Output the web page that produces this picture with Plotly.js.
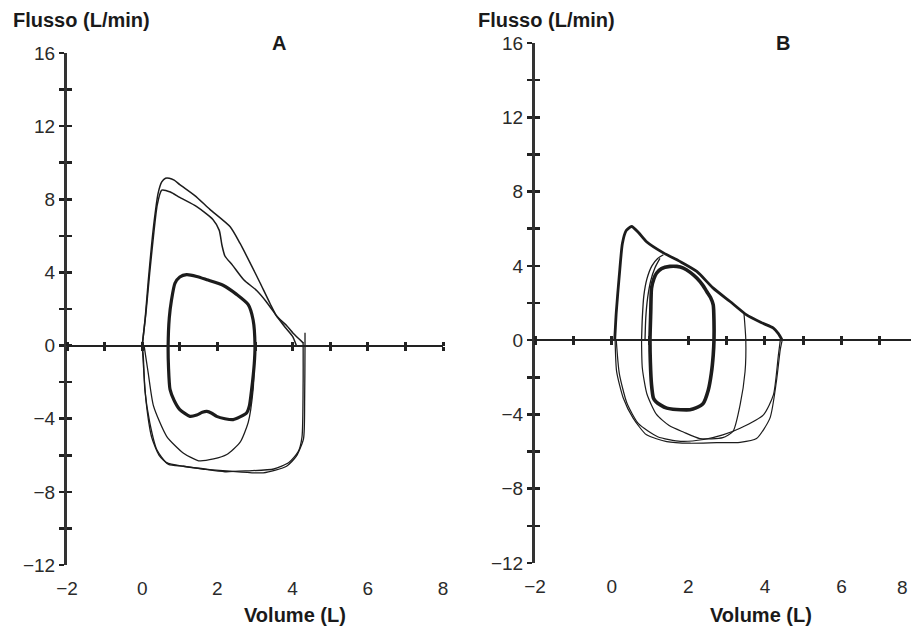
<!DOCTYPE html>
<html>
<head>
<meta charset="utf-8">
<script src="https://cdn.plot.ly/plotly-3.0.1.min.js"></script>
<style>html,body{margin:0;padding:0;background:#fff;}#chart{width:911px;height:627px;}</style>
</head>
<body>
<div id="chart"></div>
<script>
// ---------- Panel A data (Volume L, Flusso L/min) ----------
var aExp1V = [0.00, 0.08, 0.16, 0.25, 0.33, 0.42, 0.52, 0.62, 0.72, 0.85, 1.00, 1.40, 1.80, 2.34, 2.60, 2.90, 3.13, 3.40, 3.58, 3.84, 4.05, 4.28];
var aExp1F = [0.0, 1.5, 3.5, 5.5, 7.0, 8.3, 8.95, 9.15, 9.15, 9.05, 8.8, 8.2, 7.45, 6.5, 5.6, 4.4, 3.45, 2.3, 1.6, 1.1, 0.6, 0.15];
var aExp2V = [0.00, 0.10, 0.20, 0.30, 0.40, 0.52, 0.75, 1.00, 1.45, 1.88, 2.05, 2.12, 2.20, 2.40, 2.70, 3.05, 3.30, 3.58, 3.80, 4.00, 4.10];
var aExp2F = [0.0, 1.8, 4.0, 6.0, 7.7, 8.5, 8.4, 8.1, 7.6, 6.9, 6.3, 5.5, 4.9, 4.4, 3.6, 3.0, 2.4, 1.6, 1.0, 0.5, 0.0];
var aInsp1V = [4.33, 4.33, 4.32, 4.29, 4.10, 3.84, 3.22, 2.34, 1.80, 1.09, 0.65, 0.39, 0.20, 0.07, 0.03, 0.00];
var aInsp1F = [0.7, 0.0, -3.0, -5.1, -6.05, -6.6, -6.96, -6.87, -6.78, -6.6, -6.4, -5.7, -4.2, -2.4, -0.6, 0.0];
var aInsp2V = [4.28, 4.28, 4.25, 4.15, 3.90, 3.50, 2.80, 2.20, 1.60, 1.10, 0.70, 0.45, 0.25, 0.10, 0.03, 0.00];
var aInsp2F = [0.2, -2.0, -5.0, -5.8, -6.4, -6.75, -6.85, -6.9, -6.75, -6.6, -6.5, -6.0, -5.0, -3.0, -1.0, 0.0];
var aInsp3V = [3.00, 2.98, 2.95, 2.82, 2.60, 2.25, 1.90, 1.50, 1.09, 0.65, 0.30, 0.16, 0.05];
var aInsp3F = [0.0, -1.2, -2.4, -4.2, -5.3, -5.96, -6.2, -6.3, -5.87, -4.96, -3.3, -1.5, 0.0];
var aTidalV = [0.69, 0.72, 0.78, 0.87, 1.00, 1.18, 1.45, 1.72, 2.15, 2.51, 2.82, 2.95, 3.00, 2.98, 2.91, 2.85, 2.78, 2.60, 2.42, 2.20, 1.98, 1.85, 1.72, 1.60, 1.45, 1.27, 1.00, 0.85, 0.74, 0.70, 0.69];
var aTidalF = [0.0, 1.5, 2.5, 3.4, 3.75, 3.88, 3.78, 3.6, 3.3, 2.8, 2.24, 1.4, 0.0, -1.0, -2.4, -3.3, -3.67, -3.9, -4.05, -4.0, -3.87, -3.7, -3.6, -3.65, -3.8, -3.87, -3.5, -3.0, -2.4, -1.2, 0.0];

// ---------- Panel B data ----------
var bExpV = [0.08, 0.12, 0.20, 0.28, 0.38, 0.52, 0.70, 0.91, 1.35, 1.78, 2.22, 2.65, 3.09, 3.52, 3.90, 4.22, 4.35, 4.45];
var bExpF = [0.0, 1.5, 3.5, 5.2, 5.9, 6.12, 5.8, 5.3, 4.7, 4.24, 3.7, 2.8, 2.08, 1.36, 0.95, 0.65, 0.35, 0.0];
var bExp2V = [0.78, 0.80, 0.84, 0.92, 1.05, 1.20, 1.35];
var bExp2F = [0.0, 1.2, 2.4, 3.3, 4.0, 4.4, 4.6];
var bExp3V = [0.87, 0.89, 0.94, 1.02, 1.13, 1.26];
var bExp3F = [0.0, 1.2, 2.3, 3.2, 3.9, 4.4];
var bTidalV = [1.00, 1.02, 1.04, 1.10, 1.17, 1.30, 1.52, 1.70, 1.87, 2.05, 2.22, 2.38, 2.48, 2.58, 2.65, 2.67, 2.67, 2.65, 2.60, 2.52, 2.39, 2.20, 2.04, 1.80, 1.60, 1.44, 1.28, 1.15, 1.09, 1.04, 1.01, 1.00];
var bTidalF = [0.0, 1.5, 2.8, 3.3, 3.6, 3.85, 3.97, 3.97, 3.88, 3.65, 3.34, 2.95, 2.62, 2.3, 1.9, 1.0, 0.0, -0.8, -1.8, -2.7, -3.4, -3.65, -3.75, -3.75, -3.72, -3.66, -3.5, -3.3, -3.12, -2.4, -1.2, 0.0];
var bInsp1V = [4.45, 4.40, 4.30, 4.13, 3.78, 3.35, 2.74, 2.04, 1.44, 0.91, 0.56, 0.30, 0.13, 0.09];
var bInsp1F = [0.0, -0.5, -2.2, -4.2, -5.3, -5.5, -5.52, -5.55, -5.46, -5.1, -4.2, -3.1, -1.7, 0.0];
var bInsp2V = [4.40, 4.35, 4.22, 3.96, 3.35, 2.90, 2.40, 1.80, 1.20, 0.70, 0.40, 0.20, 0.12];
var bInsp2F = [0.0, -0.8, -2.95, -4.02, -4.74, -5.1, -5.35, -5.45, -5.2, -4.5, -3.4, -1.8, 0.0];
var bInsp3V = [3.45, 3.50, 3.48, 3.35, 3.17, 2.90, 2.30, 1.87, 1.50, 1.17, 0.92, 0.80, 0.78];
var bInsp3F = [1.5, 0.0, -1.7, -3.5, -4.9, -5.25, -5.3, -4.95, -4.6, -4.0, -2.9, -1.5, 0.0];

// ---------- tick labels ----------
var yTickVals = [-12, -10, -8, -6, -4, -2, 0, 2, 4, 6, 8, 10, 12, 14, 16];
var yTickText = ['\u221212', '', '\u22128', '', '\u22124', '', '0', '', '4', '', '8', '', '12', '', '16'];
var xTickVals = [-2, 0, 2, 4, 6, 8];
var xTickText = ['\u22122', '0', '2', '4', '6', '8'];
var yTitle = 'Flusso (L/min)';
var xTitle = 'Volume (L)';
var panelLabels = ['A', 'B'];

var INK = '#1c1c1c';
var FONT = 'Liberation Sans, Arial, Helvetica, sans-serif';
var W = 911, H = 627;

function line(v, f, xa, ya, w) {
  return {x: v, y: f, xaxis: xa, yaxis: ya, type: 'scatter', mode: 'lines',
          line: {color: INK, width: w, shape: 'spline', smoothing: 0.6},
          hoverinfo: 'skip', showlegend: false};
}

var data = [
  line(aExp1V, aExp1F, 'x', 'y', 1.5),
  line(aExp2V, aExp2F, 'x', 'y', 1.5),
  line(aTidalV, aTidalF, 'x', 'y', 3.2),
  line(aInsp1V, aInsp1F, 'x3', 'y', 1.3),
  line(aInsp2V, aInsp2F, 'x5', 'y', 1.3),
  line(aInsp3V, aInsp3F, 'x', 'y3', 1.3),
  line(bExpV, bExpF, 'x2', 'y2', 2.8),
  line(bExp2V, bExp2F, 'x2', 'y2', 1.3),
  line(bExp3V, bExp3F, 'x2', 'y2', 1.3),
  line(bTidalV, bTidalF, 'x2', 'y2', 3.6),
  line(bInsp1V, bInsp1F, 'x4', 'y2', 1.2),
  line(bInsp2V, bInsp2F, 'x6', 'y2', 1.2),
  line(bInsp3V, bInsp3F, 'x2', 'y4', 1.2)
];

// pixel geometry -> paper fractions
var A = {x0: 67, x1: 443, yTop: 53, yBot: 565, xr: [-2, 8]};
var B = {x0: 535, x1: 911, yTop: 43, yBot: 563, xr: [-2, 7.81]};
var yr = [-12, 16];
function dom(p) {
  var xd = [p.x0 / W, p.x1 / W];
  var yd = [1 - p.yBot / H, 1 - p.yTop / H];
  var pos = yd[0] + (0 - yr[0]) / (yr[1] - yr[0]) * (yd[1] - yd[0]);
  return {xd: xd, yd: yd, pos: pos};
}
var dA = dom(A), dB = dom(B);

var tickFont = {family: FONT, size: 19, color: '#2a2a2a'};

function labelX(d, p, yid) {
  return {domain: d.xd, range: p.xr, autorange: false, anchor: yid,
          showline: false, showgrid: false, zeroline: false,
          tickvals: xTickVals, ticktext: xTickText, ticks: 'outside',
          ticklen: 6, tickcolor: 'rgba(0,0,0,0)', tickfont: tickFont, fixedrange: true};
}
function zeroX(d, p, over, side) {
  return {overlaying: over, anchor: 'free', position: d.pos, side: side,
          range: p.xr, autorange: false, showline: side === 'bottom', linecolor: '#222', linewidth: 2,
          showgrid: false, zeroline: false, showticklabels: false,
          ticks: 'outside', tick0: 0, dtick: 1, ticklen: 4, tickwidth: 3, tickcolor: '#222', fixedrange: true};
}
function mainY(d, xid) {
  return {domain: d.yd, range: yr, autorange: false, anchor: xid,
          showline: true, linecolor: '#333', linewidth: 3, showgrid: false, zeroline: false,
          tickvals: yTickVals, ticktext: yTickText, ticks: 'outside', ticklen: 5, tickwidth: 2.5,
          tickcolor: '#222', tickfont: tickFont, fixedrange: true};
}
function insideY(over, xid) {
  return {overlaying: over, anchor: xid, side: 'left', range: yr, autorange: false,
          showline: false, showgrid: false, zeroline: false, showticklabels: false,
          tickvals: yTickVals, ticks: 'inside', ticklen: 5, tickwidth: 2.5, tickcolor: '#222', fixedrange: true};
}

var titleFont = {family: FONT, size: 20, color: '#1a1a1a'};
function ann(text, px, py, anchor, font) {
  return {text: text, xref: 'paper', yref: 'paper', x: px / W, y: 1 - py / H,
          xanchor: anchor, yanchor: 'middle', showarrow: false, font: font};
}

var layout = {
  width: W, height: H,
  margin: {l: 0, r: 0, t: 0, b: 0},
  paper_bgcolor: '#fff', plot_bgcolor: 'rgba(0,0,0,0)',
  showlegend: false,
  xaxis: labelX(dA, A, 'y'),
  yaxis: mainY(dA, 'x'),
  xaxis3: zeroX(dA, A, 'x', 'bottom'),
  xaxis5: zeroX(dA, A, 'x', 'top'),
  yaxis3: insideY('y', 'x'),
  xaxis2: labelX(dB, B, 'y2'),
  yaxis2: mainY(dB, 'x2'),
  xaxis4: zeroX(dB, B, 'x2', 'bottom'),
  xaxis6: zeroX(dB, B, 'x2', 'top'),
  yaxis4: insideY('y2', 'x2'),
  annotations: [
    ann('<b>' + yTitle + '</b>', 11, 20, 'left', titleFont),
    ann('<b>' + panelLabels[0] + '</b>', 279, 43, 'center', titleFont),
    ann('<b>' + xTitle + '</b>', 295, 615, 'center', titleFont),
    ann('<b>' + yTitle + '</b>', 476, 20, 'left', titleFont),
    ann('<b>' + panelLabels[1] + '</b>', 783, 43, 'center', titleFont),
    ann('<b>' + xTitle + '</b>', 761, 615, 'center', titleFont),
    ann(xTickText[5], 910, 587, 'right', tickFont)
  ]
};

Plotly.newPlot('chart', data, layout, {staticPlot: true, displayModeBar: false});
</script>
</body>
</html>
